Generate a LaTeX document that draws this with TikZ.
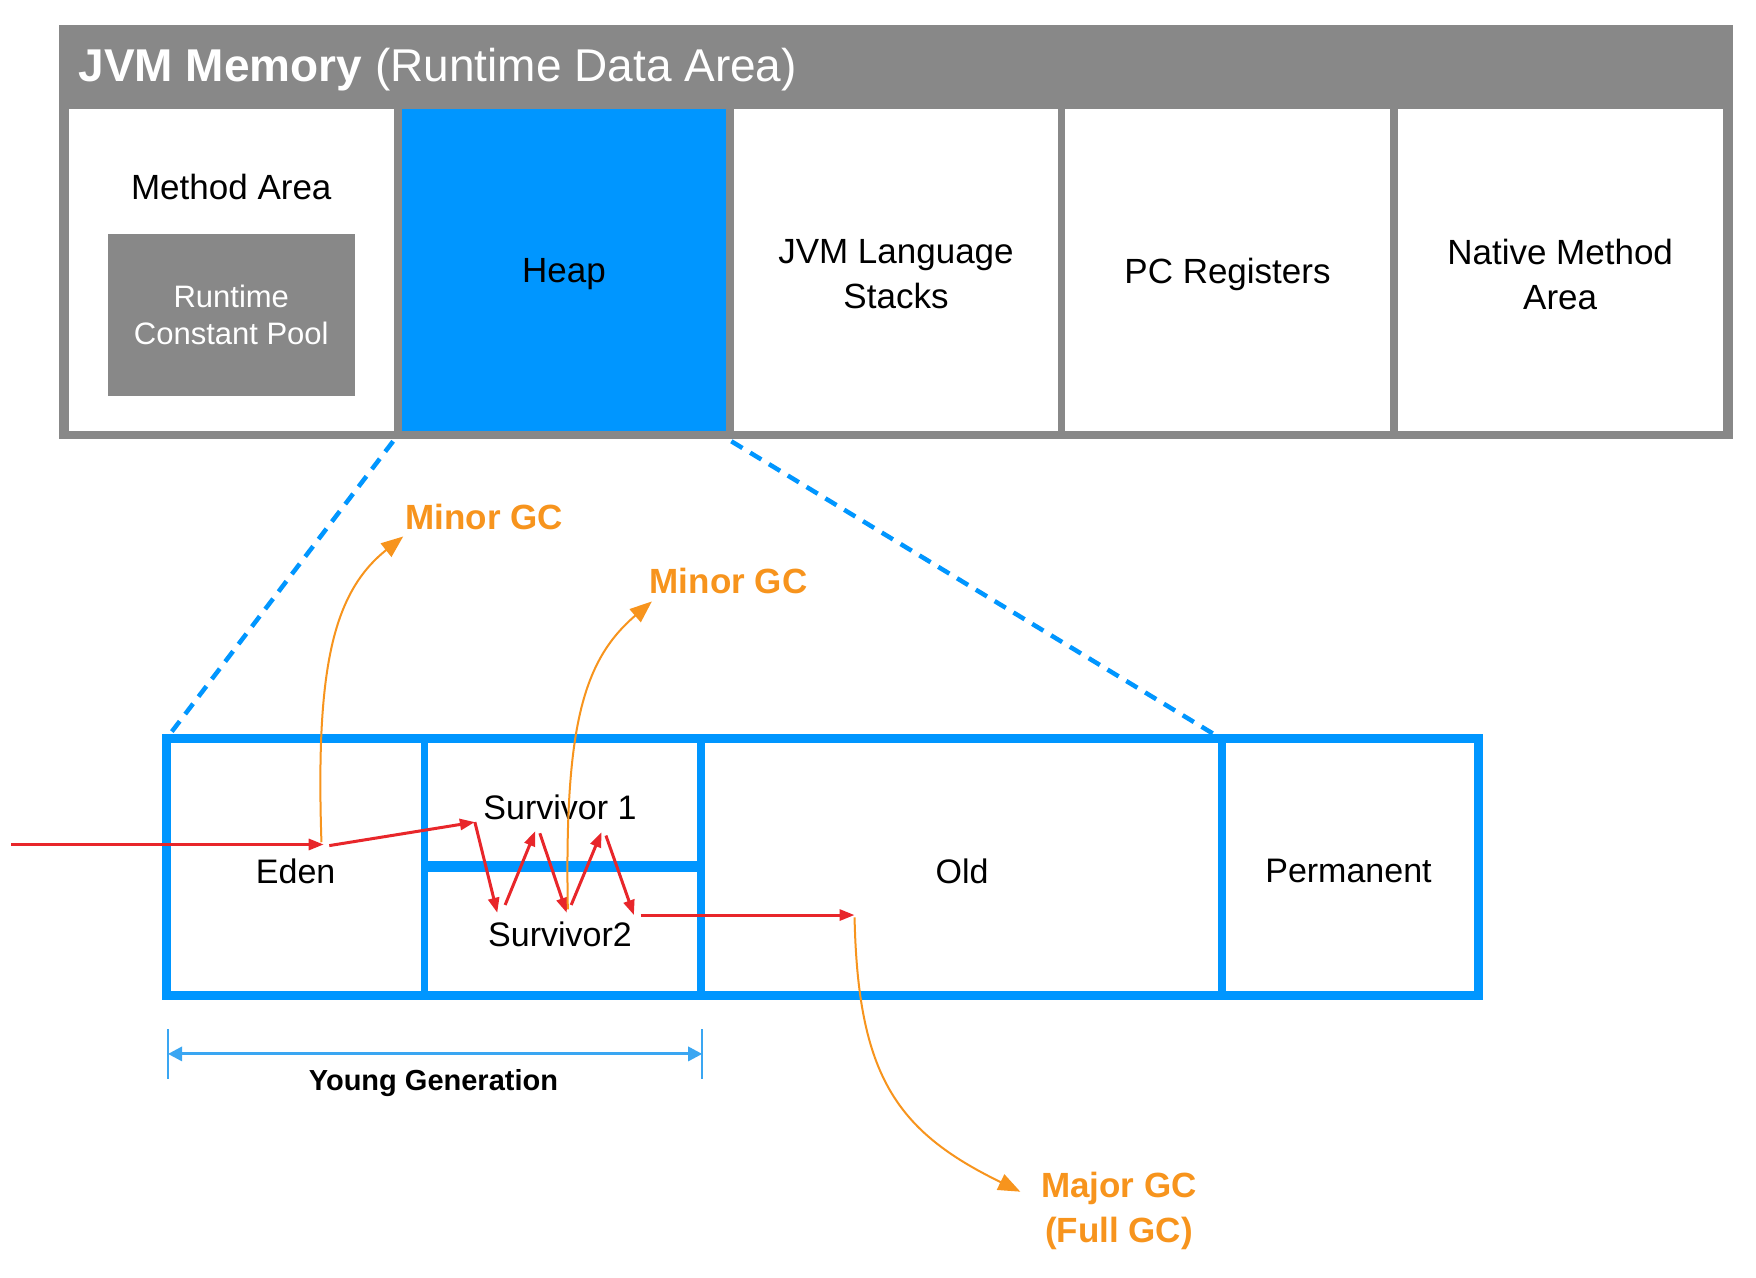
\documentclass[tikz,border=0pt]{standalone}
\usepackage{fontspec}
\setmainfont{Liberation Sans}
\usetikzlibrary{arrows.meta}
\definecolor{jgray}{HTML}{888888}
\definecolor{jblue}{HTML}{0096FF}
\definecolor{jred}{HTML}{E8262A}
\definecolor{jorange}{HTML}{F7941D}
\definecolor{jlblue}{HTML}{3AA6F2}
\newcommand{\jvmlab}{\fontsize{35}{45}\selectfont}
\newcommand{\jvmsmall}{\fontsize{34}{40}\selectfont}
\begin{document}
\begin{tikzpicture}[x=1.12pt,y=-1.12pt,
  cellbox/.style={fill=white,inner sep=0pt,minimum width=324.8pt,minimum height=322.6pt},
  celllab/.style={align=center,font=\jvmlab,inner sep=0pt},
  lowlab/.style={font=\jvmsmall,inner sep=0pt},
  gclab/.style={font=\fontsize{35}{45}\selectfont\bfseries,text=jorange,align=center,inner sep=0pt},
  redarrow/.style={draw=jred,line width=3pt,-{Triangle[length=15pt,width=11pt]}},
  orangearrow/.style={draw=jorange,line width=2pt,-{Triangle[length=22pt,width=17pt]}},
  zoomline/.style={draw=jblue,line width=4.5pt,dash pattern=on 13pt off 9pt},
  boxline/.style={draw=jblue,line width=9pt},
]
\useasboundingbox[fill=white] (0,0) rectangle (1567.86,1141.07);
% outer JVM memory frame
\fill[jgray] (53,22) rectangle (1547,392);
\node[anchor=west,text=white,font=\fontsize{46}{50}\selectfont,inner sep=0pt] (title) at (70,62) {\textbf{JVM Memory} (Runtime Data Area)};
\node[cellbox] (method) at (206.5,241) {};
\node[cellbox,fill=jblue] (heap) at (503.5,241) {};
\node[cellbox] (stacks) at (800,241) {};
\node[cellbox] (pc) at (1096,241) {};
\node[cellbox] (native) at (1393,241) {};
\node[celllab] (heaplab) at (503.5,245) {Heap};
\node[celllab] (stackslab) at (800,245) {JVM Language\\Stacks};
\node[celllab] (pclab) at (1096,245) {PC Registers};
\node[celllab] (nativelab) at (1393,245) {Native Method\\Area};
\node[celllab] (methodlab) at (206.5,167) {Method Area};
\node[fill=jgray,text=white,inner sep=0pt,minimum width=247.5pt,minimum height=162.4pt,align=center,font=\fontsize{31}{37}\selectfont] (pool) at (206.5,281) {Runtime\\Constant Pool};
% lower heap structure
\coordinate (ltl) at (149,659);
\coordinate (ltr) at (1320,659);
\coordinate (lbr) at (1320,889);
\coordinate (lbl) at (149,889);
\draw[boxline,line cap=rect] (ltl) -- (ltr) -- (lbr) -- (lbl) -- cycle;
\draw[draw=jblue,line width=7pt] (379,659) -- (379,889);
\draw[draw=jblue,line width=8pt] (626,659) -- (626,889);
\draw[draw=jblue,line width=8pt] (1091,659) -- (1091,889);
\draw[draw=jblue,line width=11pt] (379,774) -- (626,774);
% zoom lines
\coordinate (zl) at (351,394);
\coordinate (zr) at (653,394);
\draw[zoomline] (zl) -- (ltl);
\coordinate (zrend) at (1083,655);
\draw[zoomline] (zr) -- (zrend);
% labels
\node[lowlab] (eden) at (264,778) {Eden};
\node[lowlab] (surv1) at (500,721) {Survivor 1};
\node[lowlab] (surv2) at (500,834) {Survivor2};
\node[lowlab] (old) at (859,778) {Old};
\node[lowlab] (perm) at (1204,778) {Permanent};
% young generation
\coordinate (yl) at (150,941);
\coordinate (yr) at (627,941);
\draw[draw=jlblue,line width=2.5pt] (150,919) -- (150,963);
\draw[draw=jlblue,line width=2.5pt] (627,919) -- (627,963);
\draw[draw=jlblue,line width=3pt,{Triangle[length=14pt,width=14pt]}-{Triangle[length=14pt,width=14pt]}] (yl) -- (yr);
\node[font=\fontsize{29}{34}\selectfont\bfseries,inner sep=0pt] (young) at (387,967) {Young Generation};
% red object flow
\coordinate (in) at (10,754);
\coordinate (e1) at (289,754);
\coordinate (e2) at (294,755);
\coordinate (s1) at (424,734);
\coordinate (s2) at (444,815);
\coordinate (s3) at (451,808);
\coordinate (s4) at (478,742);
\coordinate (s5) at (482,744);
\coordinate (s6) at (506,815);
\coordinate (s7) at (510,808);
\coordinate (s8) at (537,743);
\coordinate (s9) at (541,746);
\coordinate (s10) at (566,817);
\coordinate (o1) at (572,817);
\coordinate (o2) at (763,817);
\draw[redarrow] (in) -- (e1);
\draw[redarrow] (e2) -- (s1);
\draw[redarrow] (s1) -- (s2);
\draw[redarrow] (s3) -- (s4);
\draw[redarrow] (s5) -- (s6);
\draw[redarrow] (s7) -- (s8);
\draw[redarrow] (s9) -- (s10);
\draw[redarrow] (o1) -- (o2);
% GC arrows
\node[gclab,anchor=west] (minor1) at (362,462) {Minor GC};
\node[gclab,anchor=west] (minor2) at (580,519) {Minor GC};
\node[gclab] (major) at (999,1081) {Major GC\\(Full GC)};
\coordinate (m1) at (360,479);
\coordinate (m2) at (582,537);
\coordinate (mj) at (911,1064);
\draw[orangearrow] (287,752) .. controls (282,600) and (296,530) .. (m1);
\draw[orangearrow] (507,812) .. controls (504,650) and (520,590) .. (m2);
\draw[orangearrow] (763,819) .. controls (766,960) and (800,1010) .. (mj);
\end{tikzpicture}
\end{document}
